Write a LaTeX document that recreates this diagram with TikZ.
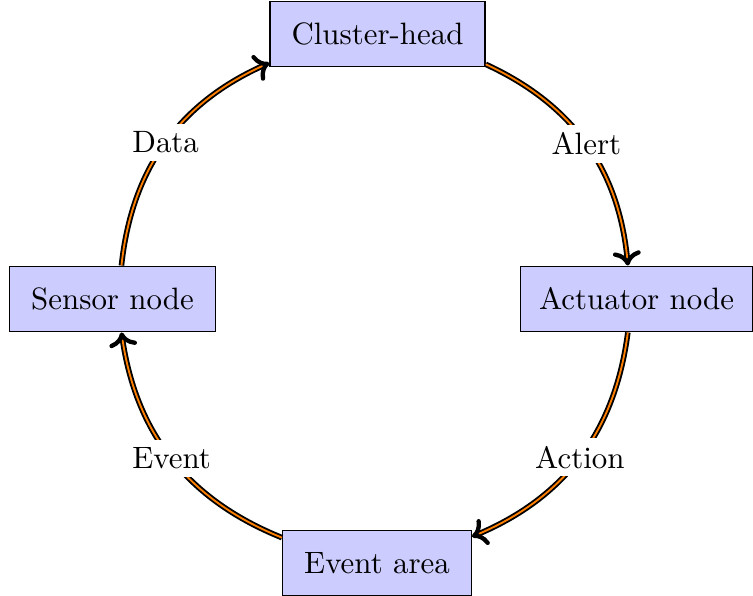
\documentclass[tikz,border=0pt]{standalone}
\usetikzlibrary{arrows.meta}
\begin{document}
\begin{tikzpicture}[x=0.3236pt,y=0.3236pt,
  box/.style={draw,fill=blue!20,inner xsep=7pt,inner ysep=7pt,minimum height=20.6pt},
  link/.style={semithick,double=orange,double distance=0.6pt,-{To[length=4.6pt,width=9pt,line width=1.4pt]},bend left=30},
  lbl/.style={fill=white,inner sep=2.5pt}]
\useasboundingbox (0,0) rectangle (753,596);
\node[box] (ch) at (377.5,562) {Cluster-head};
\node[box] (sn) at (112.5,297) {Sensor node};
\node[box,inner xsep=6pt] (an) at (636.5,297) {Actuator node};
\node[box] (ea) at (377,33) {Event area};
\draw[link] (sn) to node[lbl]{Data} (ch);
\draw[link] (ch) to node[lbl]{Alert} (an);
\draw[link] (an) to node[lbl]{Action} (ea);
\draw[link] (ea) to node[lbl]{Event} (sn);
\end{tikzpicture}
\end{document}
